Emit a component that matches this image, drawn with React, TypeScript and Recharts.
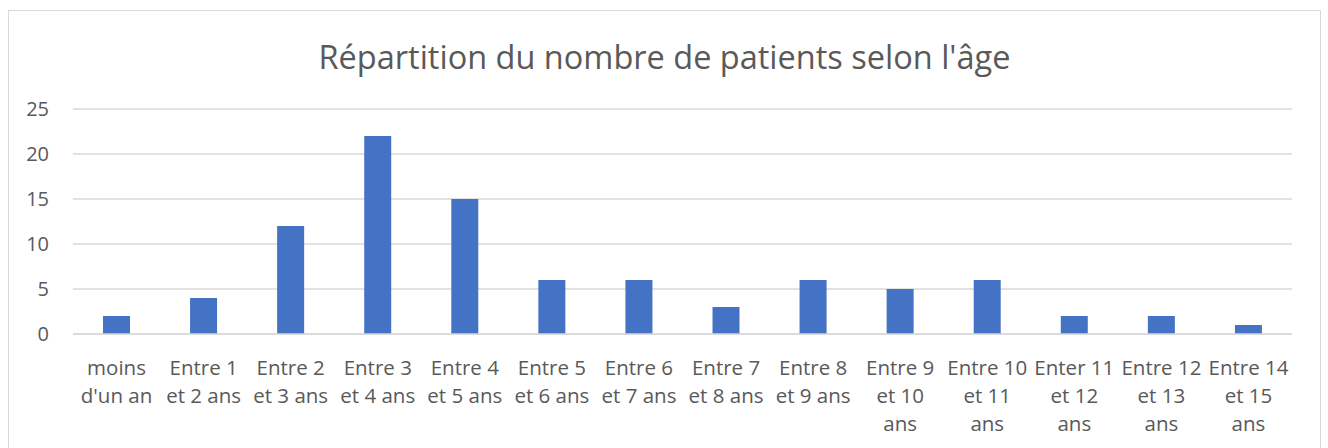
import React from 'react';
import { BarChart, Bar, XAxis, YAxis, CartesianGrid } from 'recharts';

// tranches d'âge (chaque ligne du libellé séparée)
const tranches: string[][] = [
  ["moins", "d'un an"],
  ['Entre 1', 'et 2 ans'],
  ['Entre 2', 'et 3 ans'],
  ['Entre 3', 'et 4 ans'],
  ['Entre 4', 'et 5 ans'],
  ['Entre 5', 'et 6 ans'],
  ['Entre 6', 'et 7 ans'],
  ['Entre 7', 'et 8 ans'],
  ['Entre 8', 'et 9 ans'],
  ['Entre 9', 'et 10', 'ans'],
  ['Entre 10', 'et 11', 'ans'],
  ['Enter 11', 'et 12', 'ans'],
  ['Entre 12', 'et 13', 'ans'],
  ['Entre 14', 'et 15', 'ans'],
];

const patients = [2, 4, 12, 22, 15, 6, 6, 3, 6, 5, 6, 2, 2, 1];

const yTicks = [0, 5, 10, 15, 20, 25];

const titre = "Répartition du nombre de patients selon l'âge";

const police = '"Open Sans", Lato, sans-serif';

function TickAge(props: any) {
  const { x, y, payload } = props;
  const lignes = tranches[payload.index] || [];
  return (
    <text x={x} y={y} textAnchor="middle" fill="#595959" fontSize={20.5} fontFamily={police}>
      {lignes.map((l, i) => (
        <tspan key={i} x={x} dy={i === 0 ? 33 : 28}>
          {l}
        </tspan>
      ))}
    </text>
  );
}

export default function App() {
  const data = [];
  for (let i = 0; i < tranches.length; i++) {
    data.push({ tranche: tranches[i].join(' '), patients: patients[i] });
  }

  return (
    <div
      style={{
        position: 'absolute',
        left: 8,
        top: 10,
        width: 1311,
        height: 445,
        border: '1px solid #d9d9d9',
        background: '#fff',
      }}
    >
      <div
        style={{
          position: 'absolute',
          top: 28,
          left: 0,
          width: '100%',
          textAlign: 'center',
          fontFamily: police,
          fontSize: 32.5,
          color: '#595959',
          lineHeight: '36px',
        }}
      >
        {titre}
      </div>
      <BarChart
        width={1311}
        height={440}
        data={data}
        margin={{ top: 98, right: 28, left: 0, bottom: 0 }}
      >
        <CartesianGrid vertical={false} stroke="#d9d9d9" strokeWidth={1.3} />
        <XAxis
          dataKey="tranche"
          interval={0}
          height={117}
          tickLine={false}
          axisLine={{ stroke: '#d9d9d9', strokeWidth: 1.3 }}
          tick={<TickAge />}
        />
        <YAxis
          width={64}
          domain={[0, 25]}
          ticks={yTicks}
          axisLine={false}
          tickLine={false}
          tickSize={0}
          tickMargin={24}
          tick={{ fill: '#595959', fontSize: 20, fontFamily: police }}
        />
        <Bar dataKey="patients" fill="#4472C4" barSize={27} isAnimationActive={false} />
      </BarChart>
    </div>
  );
}
